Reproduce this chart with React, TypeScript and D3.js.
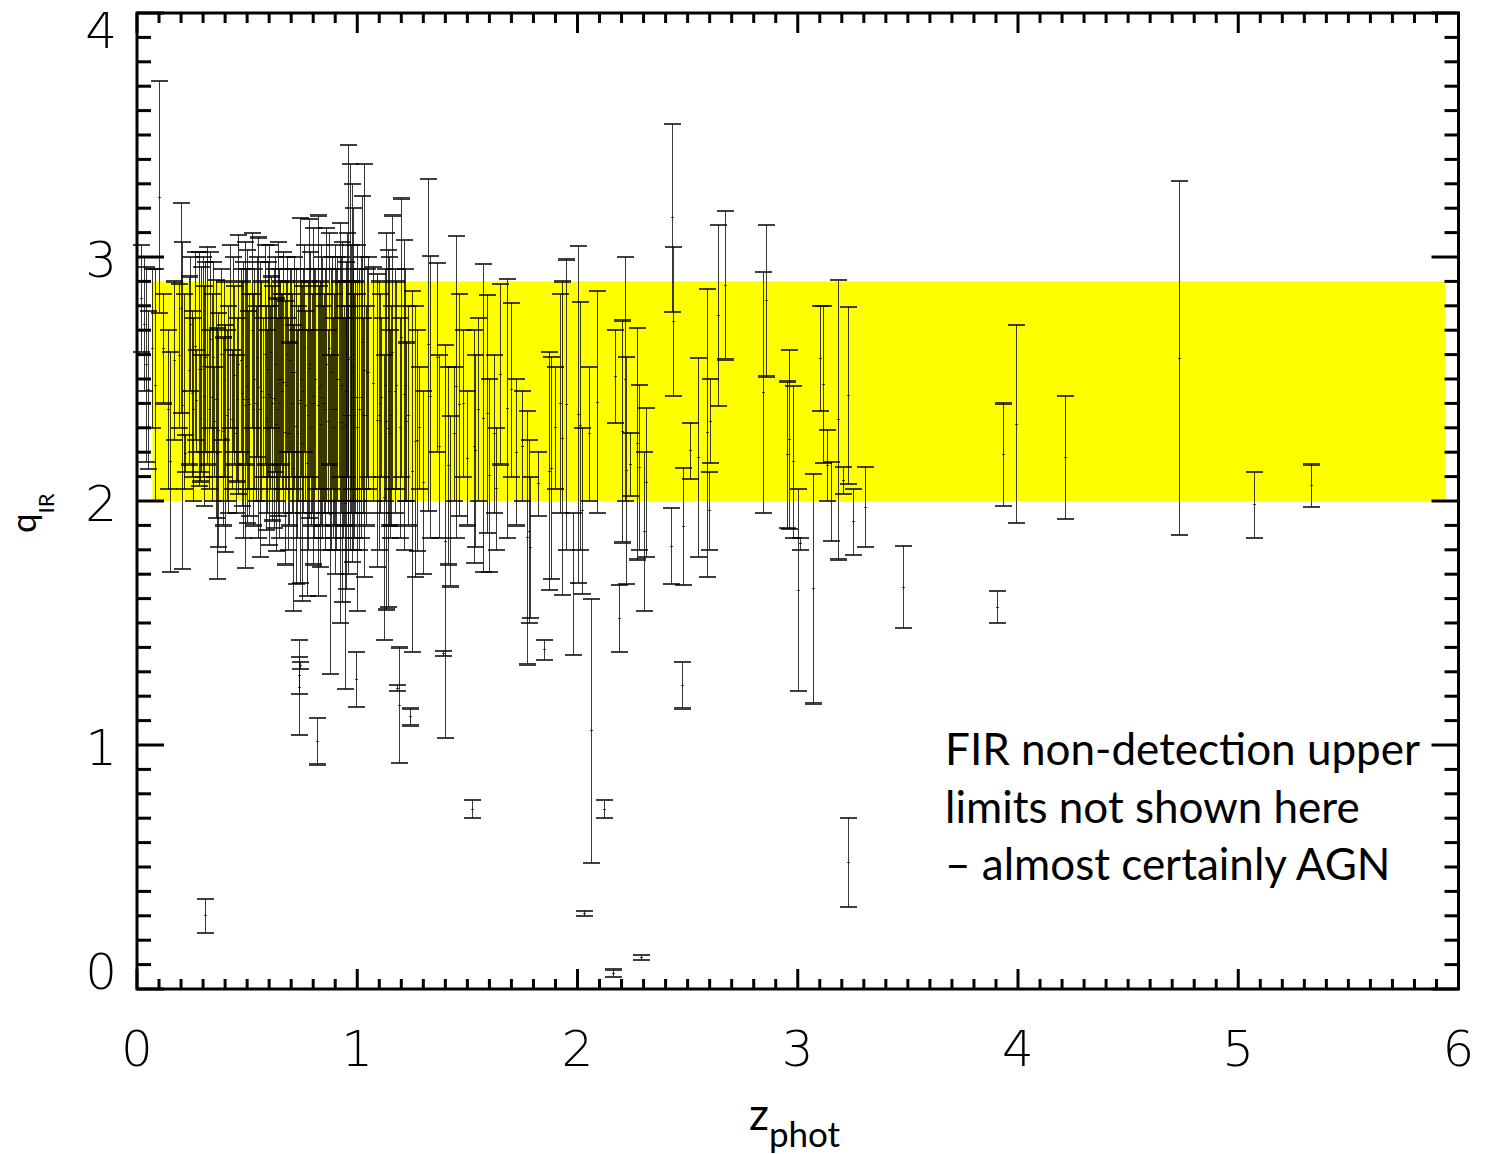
import React from 'react';
import * as d3 from 'd3';

// ---------- data: [z_phot, q_IR lower, q_IR upper] ----------
const barsZ0: number[][] = [
  [0.02, 2.61, 3.05], [0.03, 2.45, 3.0], [0.04, 2.16, 2.96], [0.05, 2.13, 2.78],
  [0.07, 2.3, 2.95], [0.08, 2.0, 2.95], [0.1, 2.77, 3.72], [0.12, 2.4, 2.85],
  [0.14, 2.05, 2.7], [0.15, 1.71, 2.61], [0.17, 2.25, 2.9], [0.19, 2.3, 2.89],
  [0.2, 2.36, 3.22], [0.205, 1.72, 3.06], [0.22, 2.12, 2.27], [0.24, 2.45, 3.0],
  [0.25, 2.1, 2.78], [0.27, 2.2, 2.62], [0.28, 2.06, 3.02], [0.29, 2.12, 2.96],
  [0.3, 2.1, 3.0], [0.31, 2.2, 2.98], [0.32, 2.15, 3.04], [0.33, 2.3, 3.02],
  [0.34, 2.0, 2.85], [0.35, 2.1, 2.55], [0.36, 1.93, 2.905], [0.365, 1.68, 2.71],
  [0.37, 1.81, 2.77], [0.38, 2.25, 2.95], [0.39, 1.9, 2.67], [0.4, 1.79, 2.72],
  [0.41, 2.0, 2.7], [0.42, 2.3, 3.05], [0.43, 2.05, 2.62], [0.44, 2.15, 2.88],
  [0.45, 1.95, 2.6], [0.46, 2.03, 3.09], [0.47, 2.2, 2.95], [0.48, 1.85, 2.98],
  [0.49, 1.725, 3.06], [0.5, 1.91, 3.03], [0.51, 1.94, 2.85], [0.52, 2.3, 3.1],
  [0.53, 2.05, 2.95], [0.54, 2.0, 2.8], [0.55, 1.85, 3.08], [0.56, 1.77, 2.98],
  [0.57, 2.1, 2.75], [0.58, 2.15, 3.05], [0.59, 1.95, 2.7],
  [0.215, 2.05, 2.85], [0.235, 2.15, 2.92], [0.255, 2.0, 2.75], [0.265, 2.25, 3.02],
  [0.285, 2.08, 2.6], [0.305, 1.98, 2.88], [0.325, 2.05, 2.7], [0.345, 2.2, 2.98],
  [0.395, 2.1, 2.9], [0.415, 1.95, 2.8], [0.435, 2.2, 3.0], [0.455, 2.08, 2.75],
  [0.475, 1.98, 2.9], [0.495, 2.15, 2.95], [0.505, 2.05, 2.78], [0.525, 1.9, 2.85],
  [0.545, 2.18, 3.0], [0.565, 2.0, 2.9], [0.585, 1.88, 2.8], [0.595, 2.1, 2.98],
];

const barsZ1: number[][] = [
  [0.6, 1.82, 3.05], [0.61, 2.3, 2.92], [0.62, 1.89, 2.95], [0.63, 1.795, 2.83],
  [0.64, 1.94, 3.06], [0.65, 2.1, 2.9], [0.66, 2.05, 2.85], [0.67, 1.74, 2.82],
  [0.68, 2.2, 3.0], [0.69, 1.9, 2.65], [0.7, 2.1, 2.95], [0.71, 1.55, 2.72],
  [0.72, 1.66, 2.95], [0.73, 2.0, 2.8], [0.74, 1.665, 3.16], [0.75, 1.59, 2.88],
  [0.76, 2.2, 3.05], [0.77, 1.61, 2.7], [0.78, 1.93, 3.155], [0.79, 1.9, 2.7],
  [0.8, 1.74, 3.12], [0.81, 2.05, 2.95], [0.82, 1.61, 3.17], [0.83, 1.73, 2.9],
  [0.84, 1.85, 3.0], [0.85, 1.95, 2.85], [0.86, 2.0, 3.12], [0.87, 2.15, 3.1],
  [0.875, 1.29, 2.6], [0.88, 1.8, 2.95], [0.89, 1.85, 2.75], [0.9, 1.7, 3.05],
  [0.91, 2.0, 3.0], [0.92, 1.5, 3.14], [0.93, 1.585, 3.06], [0.94, 1.9, 2.8],
  [0.945, 1.23, 2.75], [0.95, 1.64, 2.98], [0.955, 2.1, 3.1], [0.96, 1.7, 3.46],
  [0.965, 1.8, 3.38], [0.97, 1.95, 2.9], [0.975, 1.75, 3.3], [0.98, 2.0, 3.2],
  [0.985, 1.85, 2.85], [0.995, 1.155, 1.38], [1.0, 1.55, 3.05], [1.01, 1.8, 2.95],
  [1.02, 2.05, 3.25], [1.03, 1.69, 3.38], [1.04, 1.9, 2.8], [1.05, 2.05, 3.0],
  [1.07, 2.0, 2.96], [1.09, 1.73, 2.93], [1.1, 1.8, 2.9],
  [0.605, 2.05, 2.8], [0.615, 1.92, 2.88], [0.625, 2.12, 3.0], [0.635, 2.0, 2.75],
  [0.645, 1.85, 2.95], [0.655, 2.15, 2.85], [0.665, 1.95, 3.02], [0.675, 2.05, 2.9],
  [0.685, 1.8, 2.75], [0.695, 2.2, 2.95], [0.705, 1.95, 2.85], [0.715, 2.05, 3.0],
  [0.725, 1.85, 2.7], [0.745, 2.1, 2.9], [0.755, 1.95, 2.95], [0.765, 2.0, 2.78],
  [0.775, 1.8, 2.9], [0.785, 2.1, 3.02], [0.795, 1.95, 2.85], [0.805, 1.85, 2.95],
  [0.825, 2.05, 2.88], [0.835, 1.9, 3.05], [0.845, 2.0, 2.8], [0.855, 1.8, 2.95],
  [0.865, 1.95, 2.7], [0.885, 2.05, 3.0], [0.895, 1.9, 2.85], [0.905, 1.8, 2.95],
  [0.915, 2.1, 2.9], [0.925, 1.95, 3.0], [0.935, 1.85, 2.75], [0.95, 2.0, 2.9],
  [0.96, 1.9, 2.8], [0.97, 2.05, 3.05], [0.98, 1.8, 2.95], [0.99, 1.95, 2.9],
  [1.0, 2.0, 2.85], [1.015, 1.85, 3.0], [1.025, 1.95, 2.75], [1.045, 2.1, 2.95],
];

const barsZ2: number[][] = [
  [1.11, 2.1, 2.75], [1.12, 1.43, 2.6], [1.13, 1.555, 3.1], [1.14, 1.565, 3.03],
  [1.145, 1.9, 3.0], [1.15, 1.85, 2.7], [1.16, 2.05, 3.17], [1.17, 1.95, 2.95],
  [1.18, 1.22, 1.245], [1.19, 0.925, 1.4], [1.2, 2.1, 3.24], [1.21, 1.8, 3.07],
  [1.22, 2.0, 2.65], [1.23, 1.9, 2.8], [1.24, 1.08, 1.15], [1.25, 1.38, 2.86],
  [1.26, 1.69, 2.8], [1.27, 1.795, 2.7], [1.28, 2.05, 2.55], [1.3, 1.7, 2.45],
  [1.32, 1.96, 3.32], [1.33, 1.85, 3.005], [1.36, 2.2, 2.975], [1.37, 1.85, 2.6],
  [1.39, 1.365, 1.385], [1.4, 1.03, 2.64], [1.41, 1.74, 2.55], [1.42, 1.65, 2.35],
  [1.44, 2.0, 2.55], [1.45, 1.85, 3.085], [1.46, 1.94, 2.85], [1.48, 2.1, 2.7],
  [1.5, 1.9, 2.45], [1.52, 0.7, 0.775], [1.53, 1.745, 2.7], [1.535, 1.81, 2.6],
  [1.55, 2.0, 2.75], [1.57, 1.71, 2.97], [1.59, 1.87, 2.845], [1.6, 1.71, 2.5],
  [1.62, 1.95, 2.6], [1.63, 1.8, 2.3], [1.65, 2.15, 2.89], [1.68, 1.85, 2.91],
  [1.7, 2.1, 2.81], [1.72, 1.9, 2.5], [1.75, 2.0, 2.45], [1.77, 1.33, 2.37],
  [1.78, 1.5, 2.25], [1.785, 1.52, 2.1], [1.82, 1.94, 2.2], [1.85, 1.35, 1.43],
  [1.87, 1.635, 2.61], [1.88, 1.68, 2.59], [1.9, 2.05, 2.55], [1.92, 1.95, 2.85],
  [1.93, 1.615, 2.9], [1.95, 1.8, 2.99], [1.98, 1.37, 1.95], [2.0, 1.665, 3.045],
  [2.01, 1.8, 2.815], [2.02, 1.62, 2.3],
  [1.105, 1.95, 2.85], [1.125, 2.0, 2.95], [1.155, 1.9, 2.8], [1.175, 2.05, 2.9],
  [1.195, 1.85, 2.75], [1.215, 2.0, 2.95],
];

const barsZ3: number[][] = [
  [2.03, 0.3, 0.32], [2.05, 2.0, 2.55], [2.06, 0.515, 1.6], [2.09, 1.95, 2.86],
  [2.12, 0.7, 0.775], [2.16, 0.05, 0.08], [2.17, 2.32, 2.7], [2.19, 1.38, 1.655],
  [2.2, 1.83, 2.74], [2.215, 2.0, 3.0], [2.22, 1.66, 2.59], [2.24, 2.02, 2.28],
  [2.27, 1.76, 2.71], [2.28, 1.8, 2.475], [2.29, 0.12, 0.14], [2.3, 1.55, 2.2],
  [2.31, 1.77, 2.38], [2.425, 1.66, 1.97], [2.43, 2.775, 3.545], [2.435, 2.43, 3.04],
  [2.475, 1.15, 1.34], [2.48, 1.655, 2.135], [2.51, 2.09, 2.32], [2.545, 1.77, 2.585],
  [2.59, 1.69, 2.87], [2.595, 1.8, 2.12], [2.6, 2.155, 2.5], [2.64, 2.39, 3.13],
  [2.67, 2.58, 3.19], [2.84, 1.95, 2.94], [2.855, 2.51, 3.13], [2.95, 1.89, 2.49],
  [2.96, 1.885, 2.62], [2.98, 1.85, 2.47], [3.0, 1.22, 2.05], [3.01, 1.8, 1.85],
  [3.07, 1.17, 2.11], [3.1, 2.37, 2.8], [3.115, 2.155, 2.8], [3.135, 2.0, 2.29],
  [3.15, 1.835, 2.16], [3.185, 1.76, 2.905], [3.205, 2.03, 2.14], [3.23, 2.07, 2.795],
  [3.23, 0.335, 0.7], [3.25, 1.78, 2.05], [3.305, 1.81, 2.14],
];

const barsSparse: number[][] = [
  [3.48, 1.48, 1.815], [3.905, 1.5, 1.63], [3.93, 1.98, 2.4], [3.99, 1.91, 2.72],
  [4.215, 1.925, 2.43], [4.73, 1.86, 3.31], [5.07, 1.85, 2.12], [5.33, 1.975, 2.15],
];

const barsLowOutliers: number[][] = [
  [0.31, 0.23, 0.37], [0.735, 1.04, 1.43], [0.735, 1.21, 1.36], [0.74, 1.31, 1.34],
  [0.815, 0.92, 1.11],
];

const xTickLabels = ['0', '1', '2', '3', '4', '5', '6'];
const yTickLabels = ['0', '1', '2', '3', '4'];
const bandZ = [0.07, 5.94];
const bandQ = [2.0, 2.9];
const noteLines = ['FIR non-detection upper', 'limits not shown here', '\u2013 almost certainly AGN'];

const allBars = [...barsZ0, ...barsZ1, ...barsZ2, ...barsZ3, ...barsSparse, ...barsLowOutliers];

export default function App() {
  const W = 1489, H = 1154;
  const x = d3.scaleLinear().domain([0, 6]).range([137, 1458.5]);
  const y = d3.scaleLinear().domain([0, 4]).range([989, 13]);
  const [x0, x1] = x.range();
  const [y0, y1] = y.range();
  const tickFont = "'DejaVu Sans', sans-serif";
  const textFont = "Lato, 'Open Sans', sans-serif";

  const xTicks = d3.range(0, 61).map((i) => i / 10);
  const yTicks = d3.range(0, 41).map((i) => i / 10);
  const capHalf = 8.5;

  return (
    <svg width={W} height={H} style={{ position: 'absolute', left: 0, top: 0, display: 'block', background: '#fff' }}>
      <rect x={0} y={0} width={W} height={H} fill="#fff" />
      {/* yellow band */}
      <rect x={x(bandZ[0])} y={y(bandQ[1])} width={x(bandZ[1]) - x(bandZ[0])} height={y(bandQ[0]) - y(bandQ[1])} fill="#ffff00" />

      {/* error bars */}
      <g shapeRendering="crispEdges">
        {allBars.map((b, i) => {
          const cx = Math.round(x(b[0])) + 0.5;
          const yl = y(b[1]);
          const yh = y(b[2]);
          const ym = y((b[1] + b[2]) / 2);
          return (
            <g key={i}>
              <line x1={cx} x2={cx} y1={yl} y2={yh} stroke="#000" strokeOpacity={0.78} strokeWidth={1.2} />
              <line x1={cx - capHalf} x2={cx + capHalf} y1={yl} y2={yl} stroke="#000" strokeOpacity={0.75} strokeWidth={2.2} />
              <line x1={cx - capHalf} x2={cx + capHalf} y1={yh} y2={yh} stroke="#000" strokeOpacity={0.75} strokeWidth={2.2} />
              <line x1={cx - 1.5} x2={cx + 1.5} y1={ym} y2={ym} stroke="#000" strokeOpacity={0.7} strokeWidth={1} />
            </g>
          );
        })}
      </g>

      {/* ticks */}
      <g stroke="#000" strokeWidth={3}>
        {xTicks.map((t, i) => {
          const major = i % 10 === 0;
          const len = major ? 20 : 10;
          const px = x(t);
          return (
            <g key={'xt' + i}>
              <line x1={px} x2={px} y1={y0} y2={y0 - len} />
              <line x1={px} x2={px} y1={y1} y2={y1 + len} />
            </g>
          );
        })}
        {yTicks.map((t, i) => {
          const major = i % 10 === 0;
          const len = major ? 27 : 14;
          const py = y(t);
          return (
            <g key={'yt' + i}>
              <line x1={x0} x2={x0 + len} y1={py} y2={py} />
              <line x1={x1} x2={x1 - len} y1={py} y2={py} />
            </g>
          );
        })}
      </g>

      {/* frame */}
      <rect x={x0} y={y1} width={x1 - x0} height={y0 - y1} fill="none" stroke="#000" strokeWidth={3} />

      {/* tick labels */}
      <g fontFamily={tickFont} fontSize={50} fontWeight={200} fill="#000">
        {xTickLabels.map((l, i) => (
          <text key={'xl' + i} x={x(i)} y={1066} textAnchor="middle">{l}</text>
        ))}
        {yTickLabels.map((l, i) => {
          const off = i === 0 ? -17 : i === 4 ? 18 : 3;
          return (
            <text key={'yl' + i} x={117} y={y(i) + off} textAnchor="end" dominantBaseline="central">{l}</text>
          );
        })}
      </g>

      {/* axis titles */}
      <text x={749} y={1130} fontFamily={textFont} fontSize={44} fill="#000">
        z<tspan fontSize={35} dy={17}>phot</tspan>
      </text>
      <text transform="translate(36, 533) rotate(-90)" fontFamily={textFont} fontSize={35} fill="#000">
        q<tspan fontSize={22} dy={18}>IR</tspan>
      </text>

      {/* annotation */}
      <g fontFamily={textFont} fontSize={44} fill="#000">
        {noteLines.map((l, i) => (
          <text key={'n' + i} x={945} y={765 + i * 57.5}>{l}</text>
        ))}
      </g>
    </svg>
  );
}
